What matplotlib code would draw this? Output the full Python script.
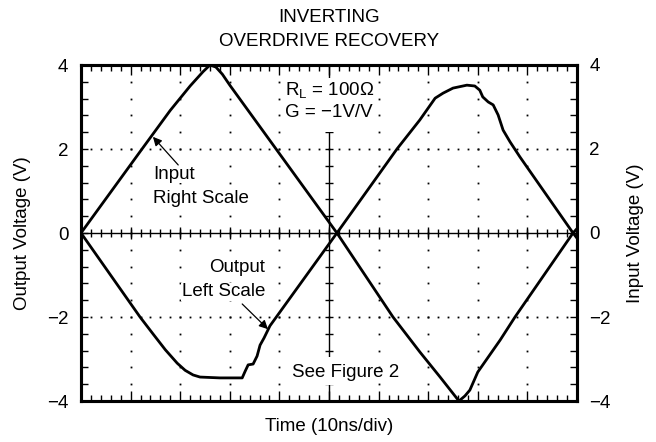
#!/usr/bin/env python3

import numpy as np
import matplotlib
matplotlib.use("Agg")
import matplotlib.pyplot as plt
from matplotlib.patches import Rectangle

# time in divisions (10ns/div), voltages in V
input_t = [0.0, 1.23, 1.80, 2.20, 2.46, 2.60, 2.72, 2.85, 3.00,
           5.16, 6.29, 6.83, 7.24, 7.50, 7.62, 7.74, 7.84, 8.00, 8.45, 8.75, 9.92, 10.05]
input_v = [0.0, 2.00, 2.92, 3.50, 3.84, 4.00, 3.95, 3.78, 3.52,
           0.00, -2.00, -2.83, -3.43, -3.82, -4.00, -3.88, -3.74, -3.31, -2.55, -2.00, 0.00, 0.17]

output_t = [0.0, 1.19, 1.45, 1.70, 1.94, 2.10, 2.26, 2.40, 2.80, 3.25, 3.31, 3.37, 3.47,
            3.55, 3.61, 3.69, 3.81, 5.16, 6.37, 6.83, 7.14, 7.30, 7.50, 7.78, 7.94,
            8.04, 8.10, 8.21, 8.31, 8.41, 8.51, 8.65, 8.85, 9.92, 10.05]
output_v = [0.0, -2.00, -2.40, -2.78, -3.10, -3.27, -3.38, -3.43, -3.45, -3.45, -3.29, -3.14, -3.12,
            -2.93, -2.67, -2.50, -2.21, 0.00, 2.00, 2.69, 3.21, 3.33, 3.45, 3.52, 3.50,
            3.40, 3.24, 3.12, 3.05, 2.81, 2.45, 2.17, 1.81, 0.00, -0.20]

yticks = [-4, -2, 0, 2, 4]

FS = 13.5
plt.rcParams['font.family'] = ['Liberation Sans', 'DejaVu Sans']
plt.rcParams['mathtext.fontset'] = 'custom'
plt.rcParams['mathtext.rm'] = 'Liberation Sans'
plt.rcParams['font.size'] = FS


def setup_axis(ax):
    ax.set_xlim(0, 10)
    ax.set_ylim(-4, 4)
    ax.set_xticks(np.arange(0, 11, 1))
    ax.set_xticks(np.arange(0, 10.01, 0.2), minor=True)
    ax.set_yticks(yticks)
    ax.set_yticks(np.arange(-4, 4.01, 0.4), minor=True)
    ax.set_xticklabels([])
    for s in ax.spines.values():
        s.set_linewidth(2.2)


fig = plt.figure(figsize=(6.56, 4.42), dpi=100)
ax = fig.add_axes([81 / 656, 41 / 442, 496 / 656, 336 / 442])
setup_axis(ax)
ax.tick_params(axis='x', which='both', direction='in', top=True, bottom=True, width=1)
ax.tick_params(axis='x', which='major', length=7)
ax.tick_params(axis='x', which='minor', length=4)
ax.tick_params(axis='y', which='both', direction='in', left=True, right=False,
               width=1, length=5, pad=9, labelsize=FS)

ax2 = ax.twinx()
setup_axis(ax2)
ax2.tick_params(axis='x', which='both', length=0)
ax2.tick_params(axis='y', which='both', direction='in', right=True, left=False,
                width=1, length=5, pad=9, labelsize=FS)

# graticule: dotted division lines
for t in [1, 2, 3, 4, 6, 7, 8, 9]:
    dots = np.arange(-3.6, 3.61, 0.4)
    ax.plot(np.full_like(dots, t), dots, ls='none', marker='s', ms=1.3,
            mec='none', mfc='black', zorder=1)
for v in [-2, 2]:
    dots = np.arange(0.2, 9.81, 0.2)
    ax.plot(dots, np.full_like(dots, v), ls='none', marker='s', ms=1.3,
            mec='none', mfc='black', zorder=1)

# center axes with crossing ticks
ax.axvline(5, color='black', lw=1.0, zorder=1)
ax.axhline(0, color='black', lw=1.0, zorder=1)
vt = np.arange(-3.6, 3.61, 0.4)
ax.hlines(vt, 5 - 0.08, 5 + 0.08, color='black', lw=1.0, zorder=1)
ht = np.arange(0.2, 9.81, 0.2)
ax.vlines(ht, -0.1, 0.1, color='black', lw=1.0, zorder=1)
ax.vlines(np.arange(1, 10, 1), -0.15, 0.15, color='black', lw=1.0, zorder=1)

# white masks behind the text blocks
ax.add_patch(Rectangle((4.08, 2.40), 1.84, 1.30, facecolor='white',
                       edgecolor='none', zorder=2))
ax.add_patch(Rectangle((4.20, -3.62), 1.70, 0.67, facecolor='white',
                       edgecolor='none', zorder=2))

ax.plot(output_t, output_v, color='black', lw=2.0, zorder=4)
ax2.plot(input_t, input_v, color='black', lw=2.0, zorder=4)

box = dict(facecolor='white', edgecolor='none', pad=0.5)
ax.text(4.11, 3.38, r'R$_\mathrm{L}$ = 100Ω', ha='left', va='center', zorder=5)
ax.text(4.11, 2.86, 'G = −1V/V', ha='left', va='center', zorder=5)
ax.text(4.25, -3.31, 'See Figure 2', ha='left', va='center', zorder=5)

ax.text(1.45, 1.40, 'Input', ha='left', va='center', zorder=5, bbox=box)
ax.text(1.45, 0.82, 'Right Scale', ha='left', va='center', zorder=5, bbox=box)
ax.annotate('', xy=(1.45, 2.29), xytext=(1.96, 1.62),
            arrowprops=dict(arrowstyle='-|>', color='black', lw=0.9,
                            mutation_scale=13, shrinkA=0, shrinkB=0), zorder=5)

ax.text(3.71, -0.83, 'Output', ha='right', va='center', zorder=5, bbox=box)
ax.text(3.71, -1.40, 'Left Scale', ha='right', va='center', zorder=5, bbox=box)
ax.annotate('', xy=(3.77, -2.29), xytext=(3.25, -1.69),
            arrowprops=dict(arrowstyle='-|>', color='black', lw=0.9,
                            mutation_scale=13, shrinkA=0, shrinkB=0), zorder=5)

ax.set_ylabel('Output Voltage (V)', fontsize=FS)
ax.yaxis.set_label_coords(-0.101, 0.5)
ax2.set_ylabel('Input Voltage (V)', fontsize=FS)
ax2.yaxis.set_label_coords(1.101, 0.5)
ax.set_xlabel('Time (10ns/div)', fontsize=FS)
ax.xaxis.set_label_coords(0.5, -0.05)

fig.text(329 / 656, 1 - 18 / 442, 'INVERTING', ha='center', va='center', fontsize=FS)
fig.text(329 / 656, 1 - 42 / 442, 'OVERDRIVE RECOVERY', ha='center', va='center', fontsize=FS)

fig.savefig('out.png', dpi=100)
plt.close(fig)
